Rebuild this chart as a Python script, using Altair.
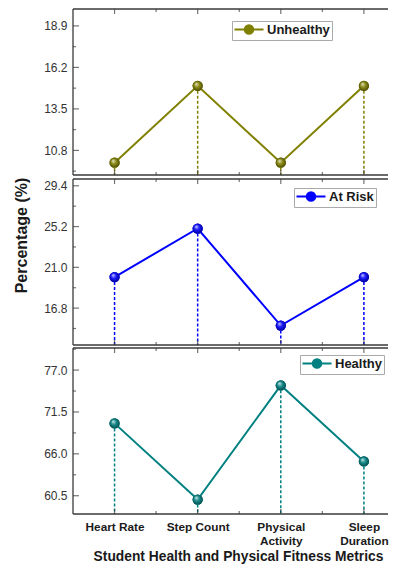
import json
import altair as alt
import pandas as pd

# ---------------- data ----------------
categories = ["Heart Rate", "Step Count", "Physical Activity", "Sleep Duration"]
series_names = ["Unhealthy", "At Risk", "Healthy"]
unhealthy_values = [10.0, 15.0, 10.0, 15.0]
at_risk_values = [20.0, 25.0, 15.0, 20.0]
healthy_values = [70.0, 60.0, 75.0, 65.0]

unhealthy_ticks = [10.8, 13.5, 16.2, 18.9]
unhealthy_minor = [9.45, 12.15, 14.85, 17.55]
at_risk_ticks = [16.8, 21.0, 25.2, 29.4]
at_risk_minor = [14.7, 18.9, 23.1, 27.3]
healthy_ticks = [60.5, 66.0, 71.5, 77.0]
healthy_minor = [63.25, 68.75, 74.25, 79.75]

unhealthy_domain = [9.2, 20.0]
at_risk_domain = [13.0, 30.1]
healthy_domain = [58.1, 79.9]

x_positions = [1, 2, 3, 4]
x_minor = [1.5, 2.5, 3.5]
x_domain = [0.5, 4.29]

x_title = "Student Health and Physical Fitness Metrics"
y_title = "Percentage (%)"

# ---------------- style ----------------
FONT = "Liberation Sans"
TEXT = "#1a1a1a"
LABEL = "#333333"
FRAME = "#3a3a3a"
COLORS = ["#808000", "#0000FF", "#008080"]
SYM_PATH = "M-1.2,0H0.85M2.55,0H4.6M2.55,0A0.85,0.85,0,1,1,0.85,0A0.85,0.85,0,1,1,2.55,0Z"
PANEL_W = 315
PANEL_H = 166

label_lines = [c.split(" ") if len(c) > 10 else c for c in categories]
label_expr = json.dumps(label_lines) + "[datum.value - 1]"


def shade(hex_color, f):
    rgb = [int(hex_color[i:i + 2], 16) for i in (1, 3, 5)]
    if f >= 0:
        rgb = [round(c + (255 - c) * f) for c in rgb]
    else:
        rgb = [round(c * (1 + f)) for c in rgb]
    return "#%02x%02x%02x" % tuple(rgb)


def sphere(color):
    return alt.RadialGradient(
        gradient="radial",
        stops=[
            alt.GradientStop(offset=0, color=shade(color, 0.85)),
            alt.GradientStop(offset=0.45, color=shade(color, 0.1)),
            alt.GradientStop(offset=1, color=shade(color, -0.45)),
        ],
        x1=0.35, y1=0.3, r1=0, x2=0.5, y2=0.5, r2=0.55,
    )


def panel(name, values, color, y_domain, y_ticks, y_minor, legend_x, legend_y,
          show_x_axis, show_y_title):
    df = pd.DataFrame({"pos": x_positions, "value": values, "series": [name] * len(values)})
    xs = alt.Scale(domain=x_domain, nice=False, zero=False)
    ys = alt.Scale(domain=y_domain, nice=False, zero=False)

    if show_x_axis:
        x_axis = alt.Axis(values=x_positions, labelExpr=label_expr, ticks=False, domain=False,
                          grid=False, labelFont=FONT, labelFontSize=11.8, labelFontWeight="bold",
                          labelColor=TEXT, labelPadding=7, labelLineHeight=14, labelBaseline="top",
                          labelFlush=False, labelOverlap=False,
                          title=x_title, titleFont=FONT, titleFontSize=13.8, titleFontWeight="bold",
                          titleColor=TEXT, titlePadding=3, titleX=165)
    else:
        x_axis = None

    y_common = dict(values=y_ticks, format=".1f", ticks=False, domain=False, grid=False,
                    labelFont=FONT, labelFontSize=12, labelColor=LABEL, labelPadding=6)
    if show_y_title:
        y_axis = alt.Axis(title=y_title, titleFont=FONT, titleFontSize=16, titleFontWeight="bold",
                          titleColor=TEXT, titleAngle=270, titleX=-52, titleY=56,
                          titleAlign="center", titleBaseline="middle", **y_common)
    else:
        y_axis = alt.Axis(title=None, **y_common)

    X = lambda f: alt.X(f, scale=xs, axis=x_axis)
    Y = lambda f: alt.Y(f, scale=ys, axis=y_axis)
    XD = lambda v: alt.XDatum(v, scale=xs, axis=x_axis)
    YD = lambda v: alt.YDatum(v, scale=ys, axis=y_axis)

    base = alt.Chart(df).encode(x=X("pos:Q"), y=Y("value:Q"))
    drops = base.mark_rule(color=color, strokeWidth=1.5, strokeDash=[3, 2]).encode(
        y2=alt.Y2Datum(y_domain[0]))
    line = base.mark_line(color=color, strokeWidth=2)
    dots = base.mark_point(filled=True, size=105, opacity=1).encode(
        color=alt.Color("series:N", scale=alt.Scale(domain=[name], range=[color]),
                        legend=alt.Legend(orient="none", legendX=legend_x, legendY=legend_y,
                                          title=None, symbolType=SYM_PATH, symbolSize=100,
                                          symbolStrokeWidth=2, symbolStrokeColor=color,
                                          symbolFillColor=color, labelFont=FONT,
                                          labelFontSize=13, labelFontWeight="bold",
                                          labelColor=TEXT, labelOffset=20, padding=2,
                                          strokeColor="#aaaaaa", fillColor="white")))
    shine = base.mark_point(filled=True, size=105, opacity=1, fill=sphere(color), strokeOpacity=0)

    frame = alt.Chart(pd.DataFrame({"k": [0]}))
    left_border = frame.mark_rule(color=FRAME, strokeWidth=1.3).encode(
        x=XD(x_domain[0]), y=YD(y_domain[0]), y2=alt.Y2Datum(y_domain[1]))
    top_border = frame.mark_rule(color=FRAME, strokeWidth=1.3).encode(
        y=YD(y_domain[1]), x=XD(x_domain[0]), x2=alt.X2Datum(x_domain[1]))
    bottom_border = frame.mark_rule(color=FRAME, strokeWidth=1.3).encode(
        y=YD(y_domain[0]), x=XD(x_domain[0]), x2=alt.X2Datum(x_domain[1]))

    def yticks(vals, size):
        return alt.Chart(pd.DataFrame({"t": vals})).mark_tick(
            orient="horizontal", size=size, thickness=1.2, color=FRAME,
            xOffset=size / 2).encode(y=Y("t:Q"), x=XD(x_domain[0]))

    def xticks(vals, size, at, direction):
        return alt.Chart(pd.DataFrame({"t": vals})).mark_tick(
            orient="vertical", size=size, thickness=1.2, color=FRAME,
            yOffset=direction * size / 2).encode(x=X("t:Q"), y=YD(at))

    layers = [drops, line, dots, shine, left_border, top_border, bottom_border,
              yticks(y_ticks, 6), yticks(y_minor, 3),
              xticks(x_positions, 5, y_domain[0], -1), xticks(x_minor, 3, y_domain[0], -1),
              xticks(x_positions, 5, y_domain[1], 1), xticks(x_minor, 3, y_domain[1], 1)]
    return alt.layer(*layers).properties(width=PANEL_W, height=PANEL_H)


top = panel(series_names[0], unhealthy_values, COLORS[0], unhealthy_domain, unhealthy_ticks,
            unhealthy_minor, 159, 12, False, False)
mid = panel(series_names[1], at_risk_values, COLORS[1], at_risk_domain, at_risk_ticks,
            at_risk_minor, 221, 9, False, True)
bot = panel(series_names[2], healthy_values, COLORS[2], healthy_domain, healthy_ticks,
            healthy_minor, 227, 7, True, False)

chart = (
    alt.vconcat(top, mid, bot, spacing=1)
    .resolve_scale(x="independent", y="independent", color="independent")
    .properties(padding={"left": 5, "top": 0, "right": 0, "bottom": 0}, background="white")
    .configure(font=FONT)
    .configure_view(stroke=None)
)

chart.save("out.html", embed_options={"renderer": "svg", "actions": False})
